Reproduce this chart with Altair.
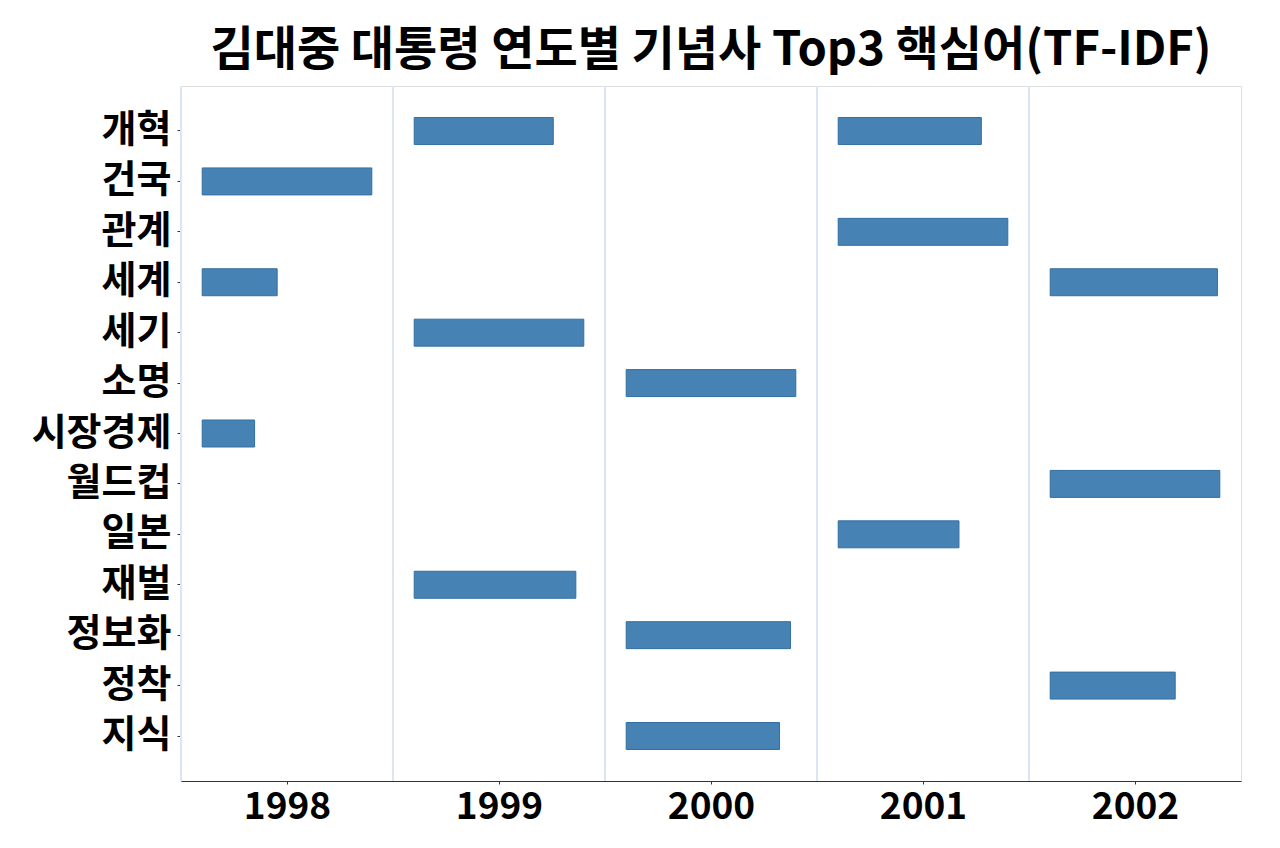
import altair as alt
import pandas as pd

# ---- data ----
years = [1998, 1999, 2000, 2001, 2002]
keywords = ["개혁", "건국", "관계", "세계", "세기", "소명", "시장경제",
            "월드컵", "일본", "재벌", "정보화", "정착", "지식"]

row_year = [1998, 1998, 1998,
            1999, 1999, 1999,
            2000, 2000, 2000,
            2001, 2001, 2001,
            2002, 2002, 2002]
row_word = ["건국", "세계", "시장경제",
            "세기", "재벌", "개혁",
            "소명", "정보화", "지식",
            "관계", "개혁", "일본",
            "월드컵", "세계", "정착"]
# relative TF-IDF score (top word of each year = 1.0)
row_score = [1.000, 0.442, 0.309,
             1.000, 0.953, 0.820,
             1.000, 0.969, 0.904,
             1.000, 0.844, 0.712,
             1.000, 0.986, 0.737]

separators = [-0.5, 0.5, 1.5, 2.5, 3.5]

bars_df = pd.DataFrame({"year": row_year, "word": row_word, "score": row_score})
sep_df = pd.DataFrame({"pos": separators})

FONT = "Noto Sans CJK KR"

x_scale = alt.Scale(domain=[-0.5, 4.5], nice=False, zero=False)

rules = alt.Chart(sep_df).mark_rule(color="#dae6f3", strokeWidth=2).encode(
    x=alt.X("pos:Q", scale=x_scale)
)

bars = alt.Chart(bars_df).transform_calculate(
    x0=f"datum.year - {years[0]} - 0.4",
    x1=f"datum.year - {years[0]} - 0.4 + 0.8 * datum.score",
).mark_bar(color="#4682b4", stroke="#346f9f", strokeWidth=1).encode(
    x=alt.X(
        "x0:Q",
        scale=x_scale,
        axis=alt.Axis(
            values=list(range(len(years))),
            labelExpr=f"'' + (datum.value + {years[0]})",
            title=None,
            grid=False,
            domain=True,
            domainColor="#333333",
            domainWidth=1.2,
            ticks=True,
            tickSize=3,
            tickColor="#333333",
            labelFont=FONT,
            labelFontSize=37,
            labelFontWeight="bold",
            labelColor="#000000",
            labelPadding=5,
        ),
    ),
    x2="x1:Q",
    y=alt.Y(
        "word:N",
        sort=keywords,
        scale=alt.Scale(domain=keywords, paddingInner=0.465, paddingOuter=0.625),
        axis=alt.Axis(
            title=None,
            grid=False,
            domain=False,
            ticks=True,
            tickSize=4,
            tickColor="#333333",
            labelFont=FONT,
            labelFontSize=38,
            labelFontWeight="bold",
            labelColor="#000000",
            labelPadding=6,
        ),
    ),
)

chart = alt.layer(rules, bars).properties(
    width=1060,
    height=695,
    autosize=alt.AutoSizeParams(type="none"),
    padding={"left": 173, "top": 78, "right": 31, "bottom": 59},
    title=alt.Title(
        "김대중 대통령 연도별 기념사 Top3 핵심어(TF-IDF)",
        font=FONT,
        fontSize=47,
        fontWeight="bold",
        color="#000000",
        anchor="middle",
        offset=10,
    ),
).configure_view(stroke=None).configure(background="white")

chart.save("out.html", embed_options={"renderer": "svg", "actions": False})
